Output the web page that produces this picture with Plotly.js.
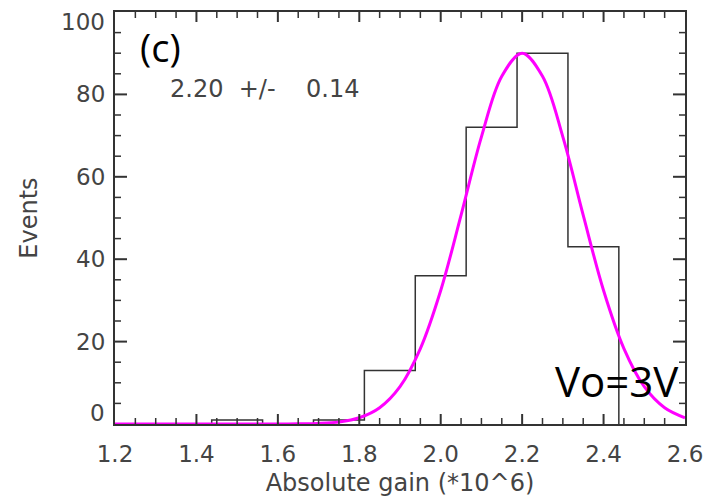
<!DOCTYPE html>
<html>
<head>
<meta charset="utf-8">
<script src="https://cdn.plot.ly/plotly-3.0.1.min.js"></script>
<style>html,body{margin:0;padding:0;background:#fff;}#chart{width:710px;height:502px;}</style>
</head>
<body>
<div id="chart"></div>
<script>
// Histogram bin edges and counts
const binEdges = [1.4375, 1.5625, 1.6875, 1.8125, 1.9375, 2.0625, 2.1875, 2.3125, 2.4375];
const counts = [1, 0, 1, 13, 36, 72, 90, 43];

// Gaussian fit curve
const fitX = [1.20, 1.25, 1.30, 1.35, 1.40, 1.45, 1.50, 1.55, 1.60, 1.65, 1.70, 1.75, 1.80, 1.85, 1.90,
              1.95, 2.00, 2.05, 2.10, 2.15, 2.20, 2.25, 2.30, 2.35, 2.40, 2.45, 2.50, 2.55, 2.60];
const fitY = [0, 0, 0, 0, 0, 0, 0, 0, 0.01, 0.04, 0.15, 0.51, 1.52, 3.95, 9.06,
              18.3, 32.4, 50.7, 69.7, 84.4, 90, 84.4, 69.7, 50.7, 32.4, 18.3, 9.06, 3.95, 1.52];

const yTickVals = [0, 20, 40, 60, 80, 100];
const yTickText = ['0', '20', '40', '60', '80', '100'];

const fitLabel = '2.20\u00a0\u00a0+/-\u00a0\u00a0\u00a0\u00a00.14';
const panelLabel = '(c)';
const voltLabel = 'Vo=3V';
const xTitle = 'Absolute gain (*10^6)';
const yTitle = 'Events';

// Build step outline from edges and counts
const histX = [binEdges[0]];
const histY = [0];
for (let i = 0; i < counts.length; i++) { histX.push(binEdges[i]); histY.push(counts[i]); }
histX.push(binEdges[binEdges.length - 1]); histY.push(0);

const axisColor = '#333';
const fam = 'DejaVu Sans, Verdana, sans-serif';
const tickFont = {family: fam, size: 23, color: '#444'};
const titleFont = {family: fam, size: 24, color: '#444'};

const traces = [
  {x: histX, y: histY, type: 'scatter', mode: 'lines', line: {shape: 'hv', color: '#333', width: 1.5},
   hoverinfo: 'skip', showlegend: false, cliponaxis: false},
  {x: fitX, y: fitY, type: 'scatter', mode: 'lines', line: {shape: 'spline', color: '#ff00ff', width: 3},
   showlegend: false, cliponaxis: false}
];

// y tick labels (the end labels are nudged inward as in the reference)
const yShift = {0: 11, 100: -10};
const yLabelAnns = yTickVals.map((v, i) => ({
  text: yTickText[i], xref: 'paper', yref: 'y', x: -0.014, y: v, xanchor: 'right', yanchor: 'middle',
  yshift: yShift[v] || 0, showarrow: false, font: tickFont
}));

// Inside tick marks on all four sides (major + minor), anchored to the axes
const tickShapes = [];
for (let i = 1; i < 28; i++) {
  const xv = 1.2 + i * 0.05;
  const major = i % 4 === 0;
  const len = major ? 10 : 6;
  const w = major ? 2 : 1.5;
  tickShapes.push({type: 'line', layer: 'above', xref: 'x', yref: 'paper', ysizemode: 'pixel', yanchor: 0,
    x0: xv, x1: xv, y0: 0, y1: len, line: {color: axisColor, width: w}});
  tickShapes.push({type: 'line', layer: 'above', xref: 'x', yref: 'paper', ysizemode: 'pixel', yanchor: 1,
    x0: xv, x1: xv, y0: 0, y1: -len, line: {color: axisColor, width: w}});
}
for (let i = 1; i < 20; i++) {
  const yv = i * 5;
  const major = i % 4 === 0;
  const len = major ? 12 : 6;
  const w = major ? 2 : 1.5;
  tickShapes.push({type: 'line', layer: 'above', xref: 'paper', yref: 'y', xsizemode: 'pixel', xanchor: 0,
    x0: 0, x1: len, y0: yv, y1: yv, line: {color: axisColor, width: w}});
  tickShapes.push({type: 'line', layer: 'above', xref: 'paper', yref: 'y', xsizemode: 'pixel', xanchor: 1,
    x0: 0, x1: -len, y0: yv, y1: yv, line: {color: axisColor, width: w}});
}

const layout = {
  width: 710, height: 502,
  margin: {l: 115, r: 25, t: 12, b: 78},
  paper_bgcolor: '#fff', plot_bgcolor: '#fff',
  showlegend: false,
  xaxis: {
    range: [1.2, 2.6], tickmode: 'linear', tick0: 1.2, dtick: 0.2, tickformat: '.1f',
    ticks: '', showline: true, linecolor: axisColor, linewidth: 2, mirror: true,
    showgrid: false, zeroline: false,
    tickfont: tickFont, ticklabelstandoff: 8,
    title: {text: xTitle, font: titleFont, standoff: 9}
  },
  yaxis: {
    range: [0, 100], tickmode: 'linear', tick0: 0, dtick: 20,
    ticks: '', showline: true, linecolor: axisColor, linewidth: 2, mirror: true,
    showgrid: false, zeroline: false, showticklabels: false,
    title: {text: yTitle, font: titleFont, standoff: 69}
  },
  shapes: tickShapes,
  annotations: yLabelAnns.concat([
    {text: panelLabel, xref: 'paper', yref: 'paper', x: 0.040, y: 0.915, xanchor: 'left', yanchor: 'middle',
     showarrow: false, font: {family: 'Open Sans, Noto Sans, sans-serif', size: 38, color: '#000'}},
    {text: fitLabel, xref: 'paper', yref: 'paper', x: 0.093, y: 0.814, xanchor: 'left', yanchor: 'middle',
     showarrow: false, font: {family: fam, size: 24, color: '#444'}},
    {text: voltLabel, xref: 'paper', yref: 'paper', x: 0.768, y: 0.106, xanchor: 'left', yanchor: 'middle',
     showarrow: false, font: {family: 'Open Sans, Noto Sans, sans-serif', size: 42, color: '#000'}}
  ])
};

Plotly.newPlot('chart', traces, layout, {displayModeBar: false, staticPlot: true});
</script>
</body>
</html>
